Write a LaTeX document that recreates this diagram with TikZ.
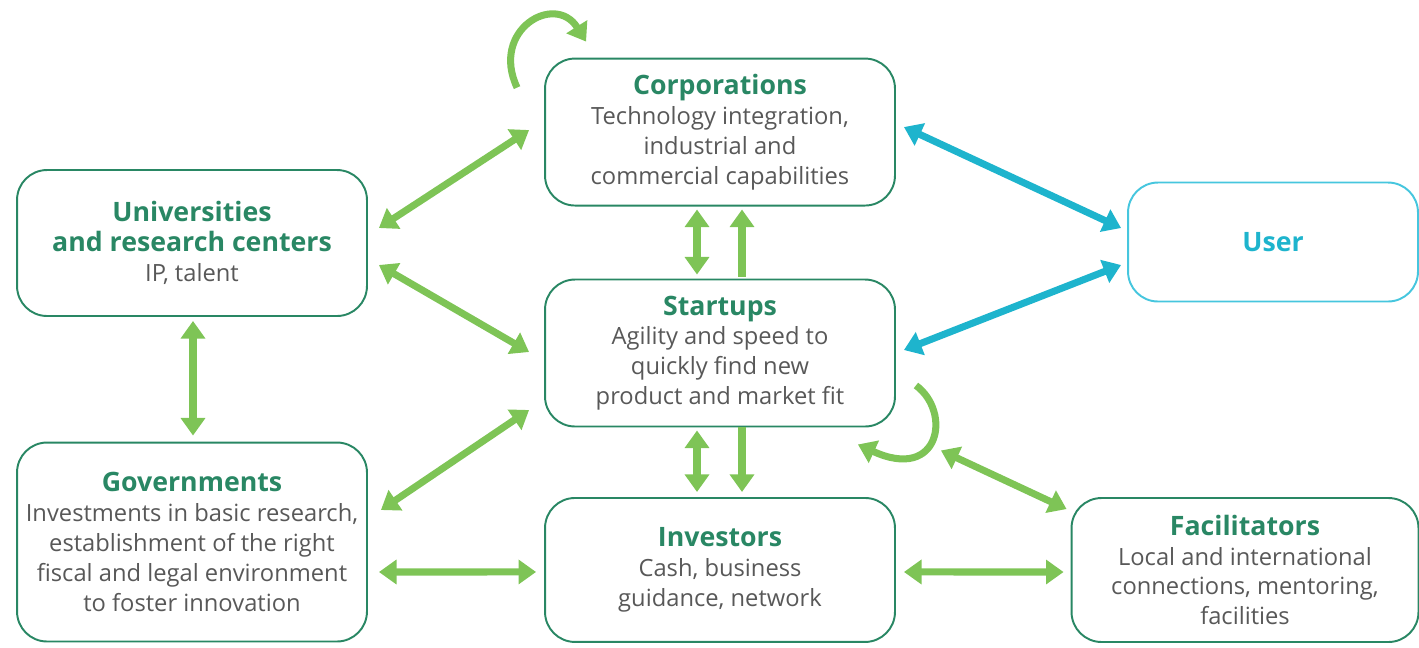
\documentclass[tikz,border=0pt]{standalone}
\usepackage{fontspec}
\setmainfont{Open Sans}
\usepackage{tikz}
\usetikzlibrary{arrows.meta,positioning}

\definecolor{boxgreen}{RGB}{41,135,100}
\definecolor{bodygray}{RGB}{88,88,88}
\definecolor{arrowgreen}{RGB}{126,196,86}
\definecolor{arrowblue}{RGB}{30,180,205}
\definecolor{userblue}{RGB}{70,198,222}

\newcommand{\boxtitle}[1]{{\bfseries\color{boxgreen}\fontsize{15.2}{17}\selectfont#1}}

\begin{document}
\begin{tikzpicture}[x=0.02cm, y=-0.02cm, node distance=4.4cm, on grid,
                    font=\fontsize{13.5}{17}\selectfont,
                    box/.style={draw=boxgreen, line width=1.1pt, rounded corners=0.6cm,
                                minimum width=7cm, minimum height=2.94cm,
                                align=center, text=bodygray, inner sep=1pt},
                    link/.style={draw=arrowgreen, line width=4pt,
                                 {Triangle[width=13.5pt,length=10pt]}-{Triangle[width=13.5pt,length=10pt]}},
                    onelink/.style={draw=arrowgreen, line width=4pt,
                                    -{Triangle[width=13.5pt,length=10pt]}},
                    ulink/.style={link, draw=arrowblue}]
    \useasboundingbox (0,0) rectangle (1419,647);

   \node[box]           (startups)     at (720,353) {\boxtitle{Startups}\\Agility and speed to\\quickly find new\\product and market fit};
   \node[box]           (corporations) [above=4.42cm of startups]  {\boxtitle{Corporations}\\Technology integration,\\industrial and\\commercial capabilities};
   \node[box, minimum height=2.88cm] (investors) [below=4.34cm of startups] {\boxtitle{Investors}\\Cash, business\\guidance, network};
   \node[box, minimum height=2.92cm] (universities) at (192,243) {\boxtitle{Universities}\\\boxtitle{and research centers}\\IP, talent};
   \node[box, minimum height=3.98cm] (governments)  at (192,542) {\boxtitle{Governments}\\Investments in basic research,\\establishment of the right\\fiscal and legal environment\\to foster innovation};
   \node[box, minimum width=6.94cm, minimum height=2.88cm] (facilitators) at (1245,570) {\boxtitle{Facilitators}\\Local and international\\connections, mentoring,\\facilities};
   \node[box, draw=userblue, minimum width=5.8cm, minimum height=2.38cm] (user) at (1273,242) {\bfseries\color{arrowblue}\fontsize{15.2}{17}\selectfont User};

   % green links
   \draw[link] ([shift={(-15,-2)}]corporations.west) -- ([shift={(11,-15)}]universities.east);
   \draw[link] ([shift={(11,22)}]universities.east)  -- ([shift={(-15,-1)}]startups.west);
   \draw[link] ([shift={(1,4)}]universities.south)   -- ([shift={(1,-6)}]governments.north);
   \draw[link] ([shift={(-15,57)}]startups.west)     -- ([shift={(13,-32)}]governments.east);
   \draw[link] ([shift={(11,30)}]governments.east)   -- ([shift={(-8,2)}]investors.west);
   \draw[link] ([shift={(8,2)}]investors.east)       -- ([shift={(-7,2)}]facilitators.west);
   \draw[link] ([shift={(45,23)}]startups.south east) -- ([shift={(-4,12)}]facilitators.north west);
   \draw[link] ([shift={(-23,3)}]corporations.south) -- ([shift={(-23,-4)}]startups.north);
   \draw[onelink] ([shift={(22,-2)}]startups.north)  -- ([shift={(22,3)}]corporations.south);
   \draw[link] ([shift={(-23,3)}]startups.south)     -- ([shift={(-23,-5)}]investors.north);
   \draw[onelink] ([shift={(22,0)}]startups.south)   -- ([shift={(22,-5)}]investors.north);

   % self loops
   \draw[onelink] ([shift={(-27,30)}]corporations.north west) .. controls (490,30) and (555,-8) .. ([shift={(42,-16)}]corporations.north west);
   \draw[onelink] ([shift={(20,-42)}]startups.south east) .. controls (952,412) and (940,482) .. ([shift={(-38,17)}]startups.south east);

   % user links
   \draw[ulink] ([shift={(8,-5)}]corporations.east) -- ([shift={(-6,-14)}]user.west);
   \draw[ulink] ([shift={(8,-3)}]startups.east)     -- ([shift={(-6,23)}]user.west);

\end{tikzpicture}
\end{document}
